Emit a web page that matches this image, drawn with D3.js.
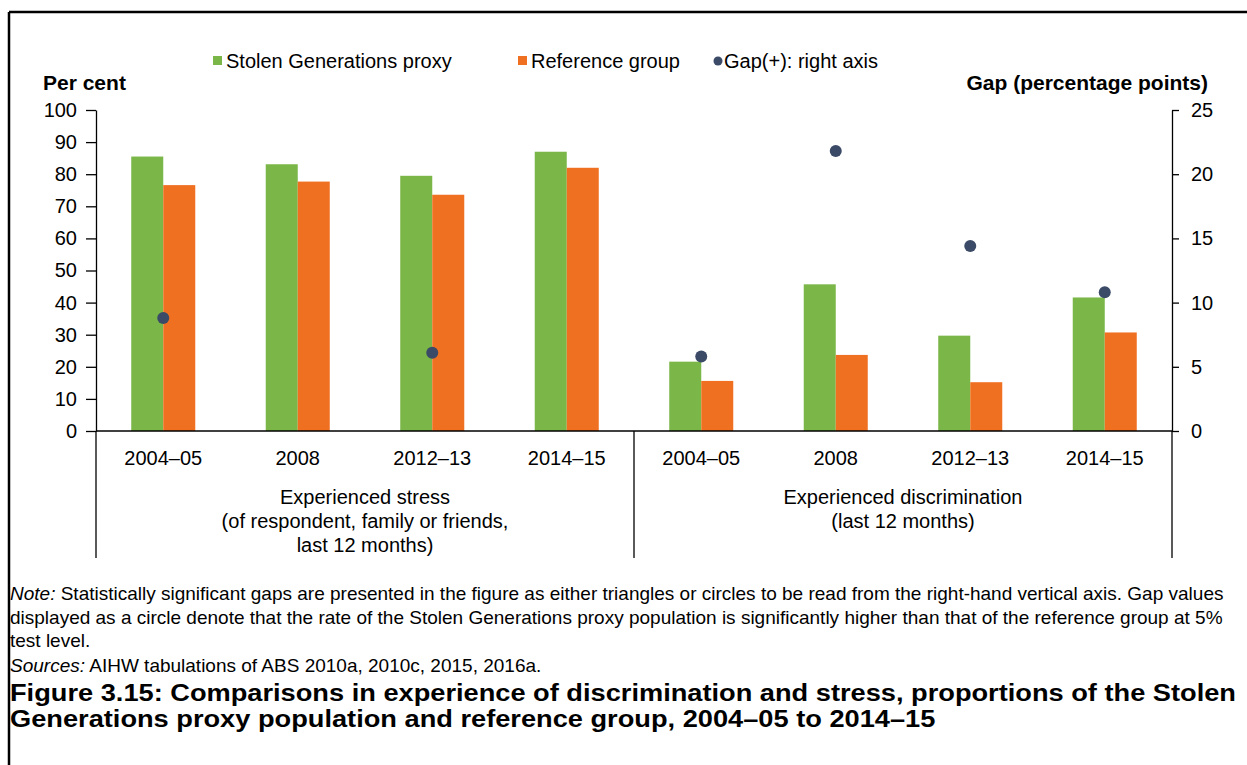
<!DOCTYPE html>
<html>
<head>
<meta charset="utf-8">
<script src="https://cdn.jsdelivr.net/npm/d3@7"></script>
<style>
  body { margin: 0; background: #fff; }
  svg text { font-family: Arial, "Liberation Sans", sans-serif; fill: #000; }
  .tick text { font-size: 20px; }
  .axis path, .axis line { stroke: #000; stroke-width: 1.3; }
</style>
</head>
<body>
<script>
// data
var years = ["2004–05", "2008", "2012–13", "2014–15"];
var panels = ["stress", "discrimination"];
var stolenStress = [85.5, 83.1, 79.5, 87.0];
var refStress = [76.6, 77.7, 73.6, 82.0];
var stolenDisc = [21.6, 45.7, 29.7, 41.6];
var refDisc = [15.6, 23.7, 15.2, 30.7];
var gapStress = [8.8, null, 6.1, null];
var gapDisc = [5.8, 21.8, 14.4, 10.8];
var leftTicks = [0, 10, 20, 30, 40, 50, 60, 70, 80, 90, 100];
var rightTicks = [0, 5, 10, 15, 20, 25];
var seriesNames = ["Stolen Generations proxy", "Reference group"];

var green = "#7ab648", orange = "#f07022", dotColor = "#3b4a66";

window.onload = function() {
  var w = 1247, h = 765;
  var svg = d3.select("body").append("svg")
              .attr("width", w)
              .attr("height", h);

  // frame (top and left rules)
  svg.append("line").attr("x1", 9).attr("y1", 12).attr("x2", w).attr("y2", 12)
     .attr("stroke", "#000").attr("stroke-width", 2.5);
  svg.append("line").attr("x1", 9).attr("y1", 12).attr("x2", 9).attr("y2", h)
     .attr("stroke", "#000").attr("stroke-width", 2.5);

  // build rows
  var data = [];
  panels.forEach(function(p, pi) {
    years.forEach(function(y, i) {
      data.push({
        key: p + "|" + y,
        year: y,
        stolen: pi == 0 ? stolenStress[i] : stolenDisc[i],
        ref: pi == 0 ? refStress[i] : refDisc[i],
        gap: pi == 0 ? gapStress[i] : gapDisc[i]
      });
    });
  });

  var left = 96, right = 1172, top = 110, bottom = 431, lower = 558;

  var x = d3.scaleBand()
            .domain(data.map(function(d) { return d.key; }))
            .range([left, right])
            .paddingInner(0.524)
            .paddingOuter(0.262);

  var x1 = d3.scaleBand()
             .domain(["stolen", "ref"])
             .range([0, x.bandwidth()]);

  var yL = d3.scaleLinear().domain([0, 100]).range([bottom, top]);
  var yR = d3.scaleLinear().domain([0, 25]).range([bottom, top]);

  // bars
  var groups = svg.append("g").selectAll("g")
     .data(data)
     .enter().append("g")
     .attr("transform", function(d) { return "translate(" + x(d.key) + ",0)"; });

  groups.selectAll("rect")
     .data(function(d) { return [{s: "stolen", v: d.stolen}, {s: "ref", v: d.ref}]; })
     .enter().append("rect")
     .attr("x", function(d) { return x1(d.s); })
     .attr("y", function(d) { return yL(d.v); })
     .attr("width", x1.bandwidth())
     .attr("height", function(d) { return yL(0) - yL(d.v); })
     .style("fill", function(d) { return d.s == "stolen" ? green : orange; });

  // left axis
  svg.append("g")
     .attr("class", "axis")
     .attr("transform", "translate(" + left + ",0)")
     .call(d3.axisLeft(yL).tickValues(leftTicks).tickSize(10).tickSizeOuter(0).tickPadding(9));

  // right axis
  svg.append("g")
     .attr("class", "axis")
     .attr("transform", "translate(" + right + ",0)")
     .call(d3.axisRight(yR).tickValues(rightTicks).tickSize(7).tickSizeOuter(0).tickPadding(12));

  // x baseline
  svg.append("line").attr("x1", left).attr("x2", right)
     .attr("y1", yL(0)).attr("y2", yL(0))
     .attr("stroke", "#000").attr("stroke-width", 1.3);

  // axis extensions and panel separator
  var mid = x(data[4].key) - x.step() * x.paddingInner() / 2;
  [left, mid, right].forEach(function(xx) {
    svg.append("line").attr("x1", xx).attr("x2", xx)
       .attr("y1", yL(0)).attr("y2", lower)
       .attr("stroke", "#000").attr("stroke-width", 1.3);
  });

  // gap dots
  svg.append("g").selectAll("circle")
     .data(data.filter(function(d) { return d.gap != null; }))
     .enter().append("circle")
     .attr("cx", function(d) { return x(d.key) + x.bandwidth() / 2; })
     .attr("cy", function(d) { return yR(d.gap); })
     .attr("r", 6)
     .style("fill", dotColor);

  // category labels
  svg.append("g").selectAll("text")
     .data(data)
     .enter().append("text")
     .attr("x", function(d) { return x(d.key) + x.bandwidth() / 2; })
     .attr("y", 465)
     .attr("text-anchor", "middle")
     .style("font-size", "20px")
     .text(function(d) { return d.year; });

  // panel labels
  var panelText = [
    ["Experienced stress", "(of respondent, family or friends,", "last 12 months)"],
    ["Experienced discrimination", "(last 12 months)"]
  ];
  var centers = [(left + mid) / 2, (mid + right) / 2];
  panelText.forEach(function(lines, pi) {
    lines.forEach(function(t, li) {
      svg.append("text")
         .attr("x", centers[pi])
         .attr("y", 504 + li * 24)
         .attr("text-anchor", "middle")
         .style("font-size", "20px")
         .text(t);
    });
  });

  // axis titles
  svg.append("text").attr("x", 43).attr("y", 90)
     .style("font-size", "21px").style("font-weight", "bold")
     .text("Per cent");
  svg.append("text").attr("x", 1208).attr("y", 90)
     .attr("text-anchor", "end")
     .style("font-size", "21px").style("font-weight", "bold")
     .text("Gap (percentage points)");

  // legend
  var leg = svg.append("g");
  leg.append("rect").attr("x", 213).attr("y", 56).attr("width", 9).attr("height", 9).style("fill", green);
  leg.append("text").attr("x", 226).attr("y", 68).style("font-size", "20px").text(seriesNames[0]);
  leg.append("rect").attr("x", 518).attr("y", 56).attr("width", 9).attr("height", 9).style("fill", orange);
  leg.append("text").attr("x", 531).attr("y", 68).style("font-size", "20px").text(seriesNames[1]);
  leg.append("circle").attr("cx", 718).attr("cy", 61).attr("r", 4.5).style("fill", dotColor);
  leg.append("text").attr("x", 724).attr("y", 68).style("font-size", "20px").text("Gap(+): right axis");

  // notes
  var note1 = svg.append("text").attr("x", 10).attr("y", 600).style("font-size", "19px");
  note1.append("tspan").style("font-style", "italic").text("Note:");
  note1.append("tspan").text(" Statistically significant gaps are presented in the figure as either triangles or circles to be read from the right-hand vertical axis. Gap values");
  svg.append("text").attr("x", 10).attr("y", 624).style("font-size", "19px")
     .text("displayed as a circle denote that the rate of the Stolen Generations proxy population is significantly higher than that of the reference group at 5%");
  svg.append("text").attr("x", 10).attr("y", 647).style("font-size", "19px")
     .text("test level.");
  var src = svg.append("text").attr("x", 10).attr("y", 672).style("font-size", "19px");
  src.append("tspan").style("font-style", "italic").text("Sources:");
  src.append("tspan").text(" AIHW tabulations of ABS 2010a, 2010c, 2015, 2016a.");

  // figure title, stretched a little wider like the source
  var t1 = svg.append("text").attr("x", 10).attr("y", 701)
     .style("font-size", "23px").style("font-weight", "bold")
     .text("Figure 3.15: Comparisons in experience of discrimination and stress, proportions of the Stolen");
  var t2 = svg.append("text").attr("x", 10).attr("y", 727)
     .style("font-size", "23px").style("font-weight", "bold")
     .text("Generations proxy population and reference group, 2004–05 to 2014–15");
  var stretch = 1226 / t1.node().getComputedTextLength();
  t1.attr("textLength", 1226).attr("lengthAdjust", "spacingAndGlyphs");
  t2.attr("textLength", t2.node().getComputedTextLength() * stretch).attr("lengthAdjust", "spacingAndGlyphs");
}
</script>
</body>
</html>
